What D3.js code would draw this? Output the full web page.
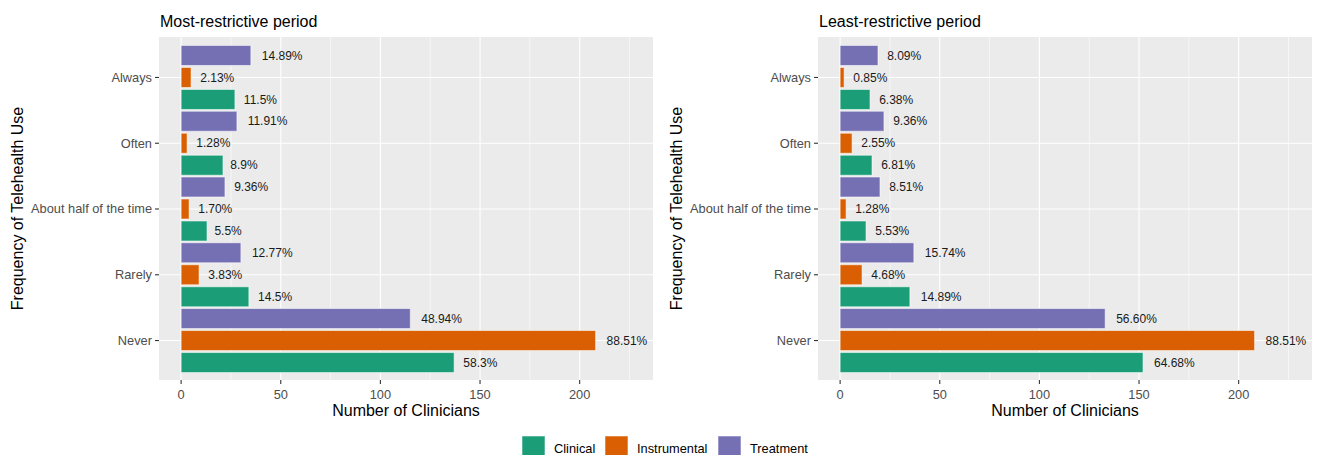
<!DOCTYPE html>
<html>
<head>
<meta charset="utf-8">
<script src="https://cdn.jsdelivr.net/npm/d3@7"></script>
<style>
  html, body { margin: 0; padding: 0; background: #ffffff; }
  svg { display: block; font-family: "Liberation Sans", Arial, Helvetica, sans-serif; }
</style>
</head>
<body>
<svg id="chart" width="1317" height="455"></svg>
<script>
// Frequency categories (top to bottom) and clinician groups
const categories = ["Always", "Often", "About half of the time", "Rarely", "Never"];
const seriesNames = ["Clinical", "Instrumental", "Treatment"];
const seriesColors = ["#1B9E77", "#D95F02", "#7570B3"];
const xTicks = [0, 50, 100, 150, 200];
const xMinorTicks = [25, 75, 125, 175, 225];

// Most-restrictive period: number of clinicians and share labels
const mostClinical = [27, 21, 13, 34, 137];
const mostClinicalLabels = ["11.5%", "8.9%", "5.5%", "14.5%", "58.3%"];
const mostInstrumental = [5, 3, 4, 9, 208];
const mostInstrumentalLabels = ["2.13%", "1.28%", "1.70%", "3.83%", "88.51%"];
const mostTreatment = [35, 28, 22, 30, 115];
const mostTreatmentLabels = ["14.89%", "11.91%", "9.36%", "12.77%", "48.94%"];

// Least-restrictive period
const leastClinical = [15, 16, 13, 35, 152];
const leastClinicalLabels = ["6.38%", "6.81%", "5.53%", "14.89%", "64.68%"];
const leastInstrumental = [2, 6, 3, 11, 208];
const leastInstrumentalLabels = ["0.85%", "2.55%", "1.28%", "4.68%", "88.51%"];
const leastTreatment = [19, 22, 20, 37, 133];
const leastTreatmentLabels = ["8.09%", "9.36%", "8.51%", "15.74%", "56.60%"];

function buildRows(values, labels) {
  const rows = [];
  seriesNames.forEach((s, si) => {
    categories.forEach((c, ci) => {
      rows.push({ category: c, series: s, value: values[si][ci], label: labels[si][ci] });
    });
  });
  return rows;
}

const panels = [
  {
    title: "Most-restrictive period",
    left: 159,
    rows: buildRows([mostClinical, mostInstrumental, mostTreatment],
                    [mostClinicalLabels, mostInstrumentalLabels, mostTreatmentLabels])
  },
  {
    title: "Least-restrictive period",
    left: 818,
    rows: buildRows([leastClinical, leastInstrumental, leastTreatment],
                    [leastClinicalLabels, leastInstrumentalLabels, leastTreatmentLabels])
  }
];

const svg = d3.select("#chart");
const panelWidth = 494;
const plotTop = 37, plotBottom = 380;
const color = d3.scaleOrdinal().domain(seriesNames).range(seriesColors);

panels.forEach(p => {
  const x = d3.scaleLinear().domain([-11.1, 236.8]).range([p.left, p.left + panelWidth]);
  const y = d3.scalePoint().domain(categories).range([plotTop + 1, plotBottom]).padding(0.6);
  const slot = 22;
  // Treatment drawn on top, Clinical at the bottom of each group
  const dodge = d3.scaleBand().domain(["Treatment", "Instrumental", "Clinical"])
    .range([-slot * 1.5, slot * 1.5]);

  const g = svg.append("g");

  // panel background
  g.append("rect")
    .attr("x", p.left).attr("y", plotTop)
    .attr("width", panelWidth).attr("height", plotBottom - plotTop)
    .attr("fill", "#EBEBEB");

  // minor vertical grid
  g.selectAll(".minor").data(xMinorTicks).join("line")
    .attr("x1", d => x(d)).attr("x2", d => x(d))
    .attr("y1", plotTop).attr("y2", plotBottom)
    .attr("stroke", "#ffffff").attr("stroke-width", 0.55);

  // major vertical grid
  g.selectAll(".majorx").data(xTicks).join("line")
    .attr("x1", d => x(d)).attr("x2", d => x(d))
    .attr("y1", plotTop).attr("y2", plotBottom)
    .attr("stroke", "#ffffff").attr("stroke-width", 1.1);

  // major horizontal grid at each category
  g.selectAll(".majory").data(categories).join("line")
    .attr("x1", p.left).attr("x2", p.left + panelWidth)
    .attr("y1", d => y(d)).attr("y2", d => y(d))
    .attr("stroke", "#ffffff").attr("stroke-width", 1.1);

  // bars
  g.selectAll(".bar").data(p.rows).join("rect")
    .attr("x", x(0))
    .attr("y", d => y(d.category) + dodge(d.series) + 1)
    .attr("width", d => x(d.value) - x(0))
    .attr("height", dodge.bandwidth() - 2)
    .attr("fill", d => color(d.series))
    .attr("stroke", "#ffffff").attr("stroke-opacity", 0.55).attr("stroke-width", 1);

  // value labels
  g.selectAll(".lbl").data(p.rows).join("text")
    .attr("y", d => y(d.category) + dodge(d.series) + dodge.bandwidth() / 2)
    .attr("dy", "0.35em")
    .attr("font-size", 12)
    .attr("fill", "#1a1a1a")
    .text(d => d.label)
    .each(function (d) {
      const w = this.getComputedTextLength();
      d3.select(this).attr("x", x(d.value) + 0.27 * w);
    });

  // x axis ticks and labels
  g.selectAll(".xt").data(xTicks).join("line")
    .attr("x1", d => x(d)).attr("x2", d => x(d))
    .attr("y1", plotBottom).attr("y2", plotBottom + 4)
    .attr("stroke", "#333333").attr("stroke-width", 1.1);
  g.selectAll(".xl").data(xTicks).join("text")
    .attr("x", d => x(d)).attr("y", plotBottom + 19)
    .attr("text-anchor", "middle")
    .attr("font-size", 12.8).attr("fill", "#4D4D4D")
    .text(d => d);

  // y axis ticks and labels
  g.selectAll(".yt").data(categories).join("line")
    .attr("x1", p.left - 4).attr("x2", p.left)
    .attr("y1", d => y(d)).attr("y2", d => y(d))
    .attr("stroke", "#333333").attr("stroke-width", 1.1);
  g.selectAll(".yl").data(categories).join("text")
    .attr("x", p.left - 7).attr("y", d => y(d))
    .attr("dy", "0.35em")
    .attr("text-anchor", "end")
    .attr("font-size", 12.8).attr("fill", "#4D4D4D")
    .text(d => d);

  // titles
  g.append("text")
    .attr("x", p.left + 1).attr("y", 27)
    .attr("font-size", 16).attr("fill", "#000")
    .text(p.title);
  g.append("text")
    .attr("x", p.left + panelWidth / 2).attr("y", 416)
    .attr("text-anchor", "middle")
    .attr("font-size", 16).attr("fill", "#000")
    .text("Number of Clinicians");
  g.append("text")
    .attr("transform", `translate(${p.left - 136},${(plotTop + plotBottom) / 2}) rotate(-90)`)
    .attr("text-anchor", "middle")
    .attr("font-size", 16).attr("fill", "#000")
    .text("Frequency of Telehealth Use");
});

// legend
const legendItems = [
  { name: seriesNames[0], keyX: 522 },
  { name: seriesNames[1], keyX: 605 },
  { name: seriesNames[2], keyX: 718 }
];
const lg = svg.append("g");
lg.selectAll("rect").data(legendItems).join("rect")
  .attr("x", d => d.keyX).attr("y", 436)
  .attr("width", 23).attr("height", 23)
  .attr("fill", d => color(d.name))
  .attr("stroke", "#ffffff").attr("stroke-opacity", 0.55);
lg.selectAll("text").data(legendItems).join("text")
  .attr("x", d => d.keyX + 32).attr("y", 452.5)
  .attr("font-size", 12.8).attr("fill", "#000")
  .text(d => d.name);
</script>
</body>
</html>
